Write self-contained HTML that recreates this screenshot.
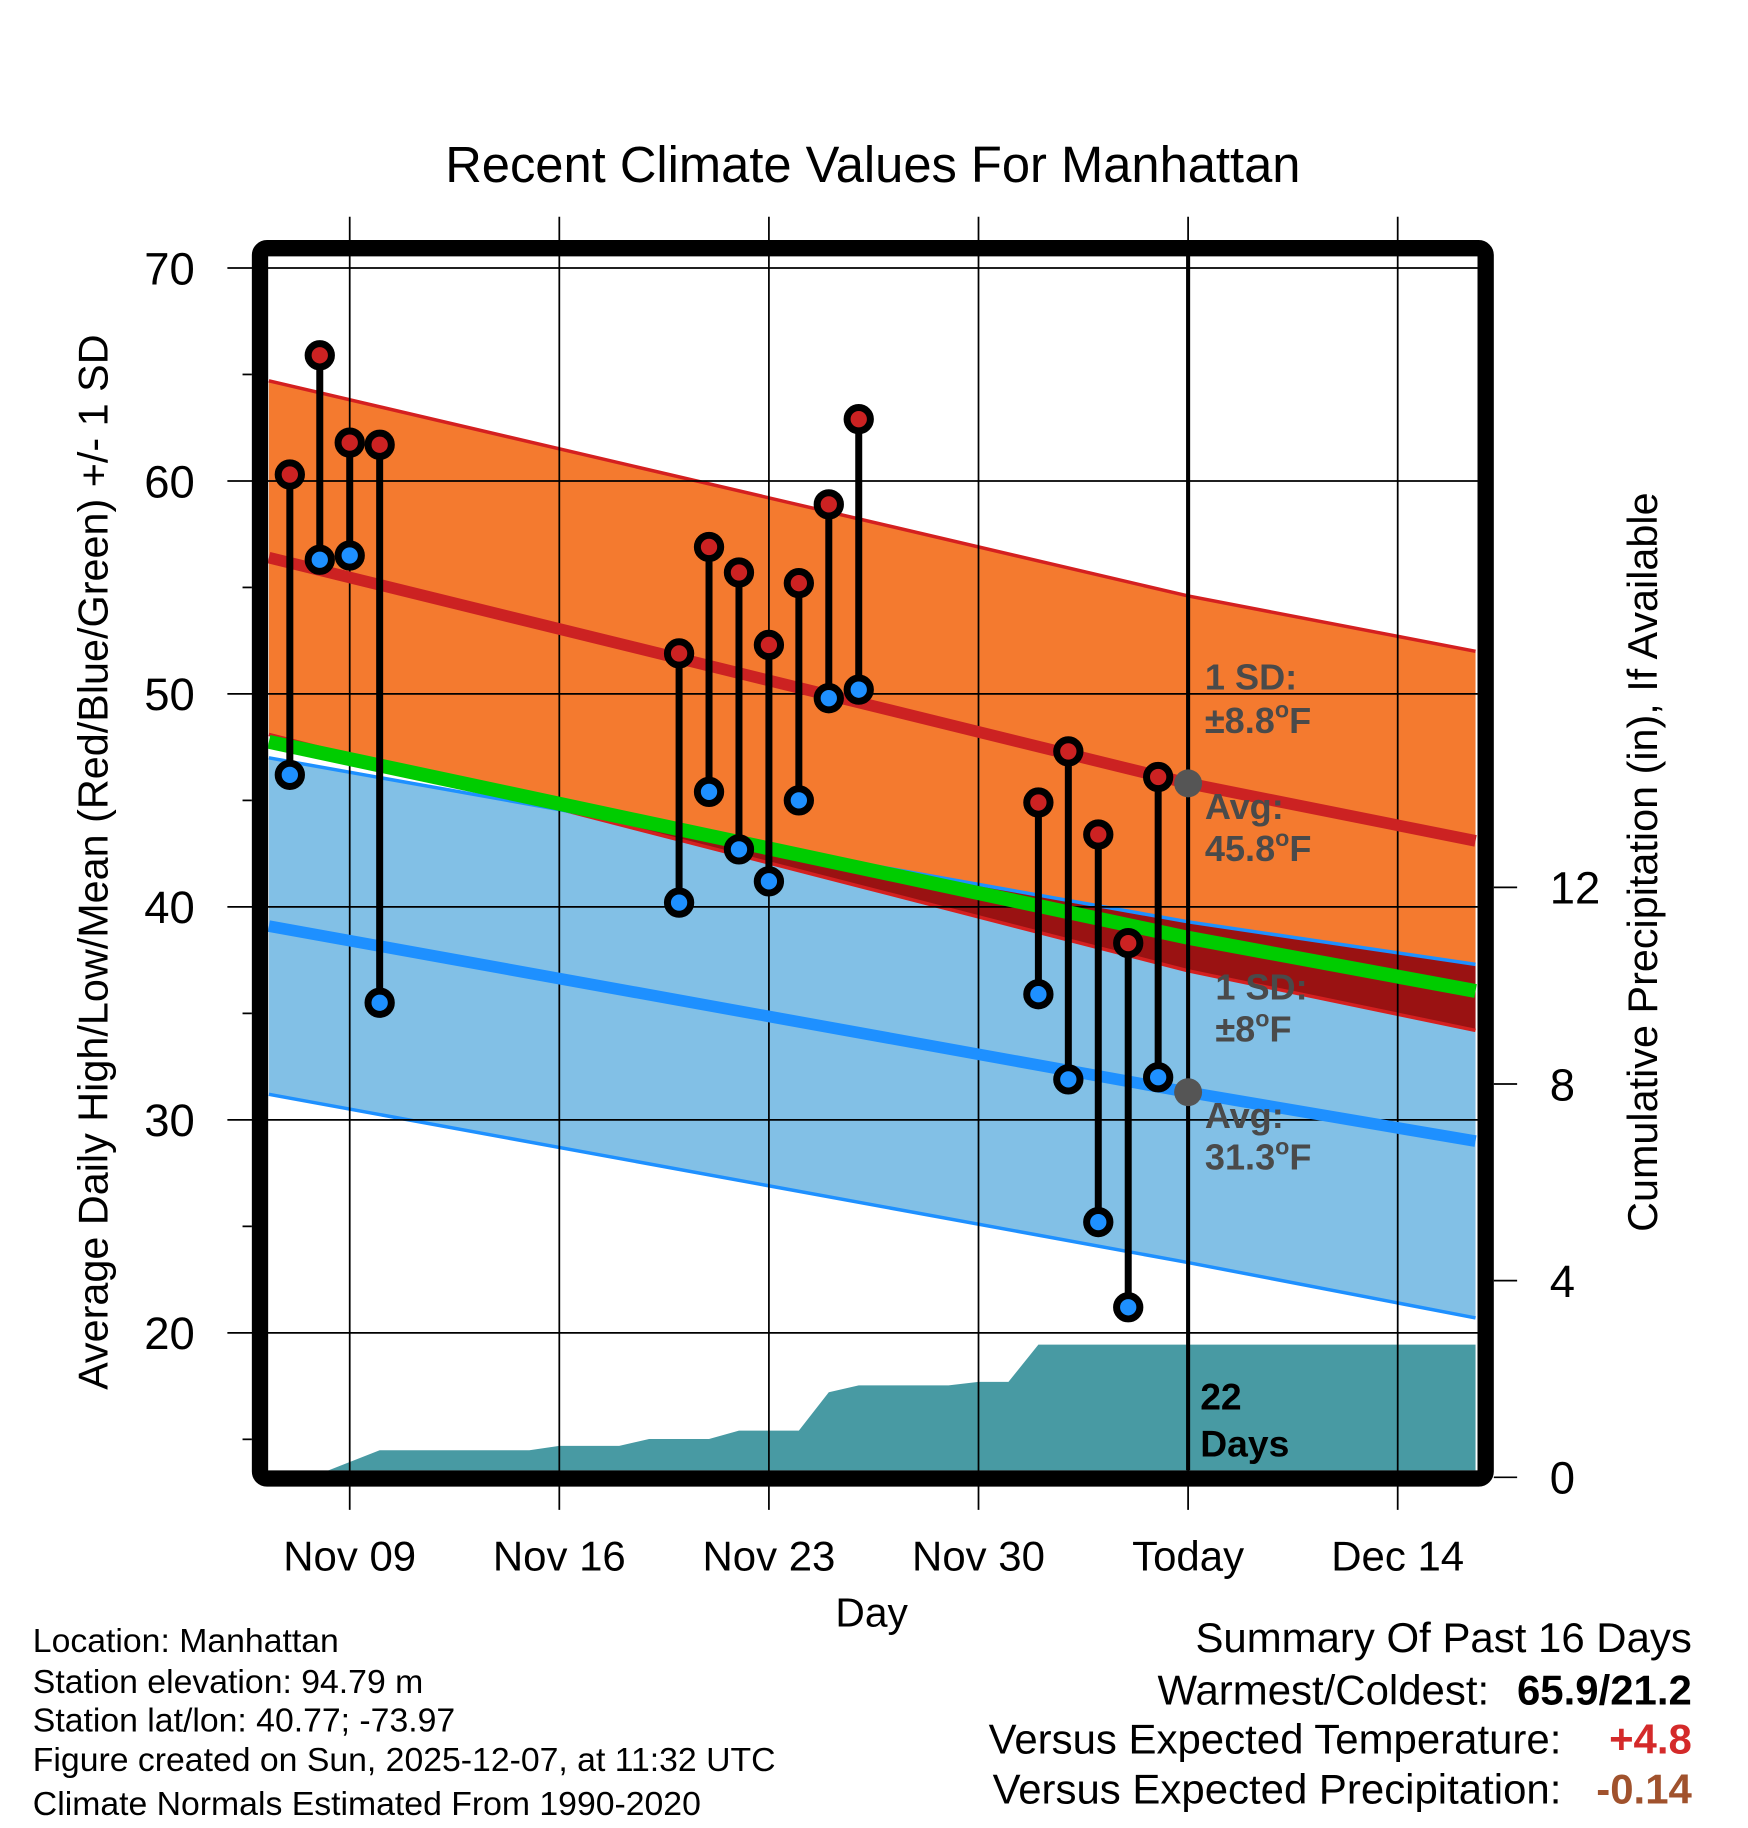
<!DOCTYPE html>
<html><head><meta charset="utf-8"><style>
html,body{margin:0;padding:0;background:#fff}
svg{display:block;font-family:"Liberation Sans",Arial,sans-serif}
</style></head><body>
<svg id="chart" width="1748" height="1828" viewBox="0 0 1500 1569" xmlns="http://www.w3.org/2000/svg">
<defs><clipPath id="plotclip"><rect x="230" y="212" width="1038" height="1050"/></clipPath></defs>
<text x="749" y="156" font-size="43.5" text-anchor="middle">Recent Climate Values For Manhattan</text>
<g id="bands" clip-path="url(#plotclip)"></g>
<g id="grid"></g>
<g id="marks" clip-path="url(#plotclip)"></g>
<g id="axes"></g>
<text transform="translate(92,740) rotate(-90)" font-size="35.5" text-anchor="middle">Average Daily High/Low/Mean (Red/Blue/Green) +/- 1 SD</text>
<text transform="translate(1422,740) rotate(-90)" font-size="35.5" text-anchor="middle">Cumulative Precipitation (in), If Available</text>
<text x="748" y="1396" font-size="35" text-anchor="middle">Day</text>
<g font-size="29">
<text x="28" y="1418">Location: Manhattan</text>
<text x="28" y="1453">Station elevation: 94.79 m</text>
<text x="28" y="1486">Station lat/lon: 40.77; -73.97</text>
<text x="28" y="1520">Figure created on Sun, 2025-12-07, at 11:32 UTC</text>
<text x="28" y="1558">Climate Normals Estimated From 1990-2020</text>
</g>
<g font-size="36">
<text x="1452" y="1418" text-anchor="end">Summary Of Past 16 Days</text>
<text x="1278" y="1463" text-anchor="end">Warmest/Coldest:</text>
<text x="1452" y="1463" text-anchor="end" font-weight="bold">65.9/21.2</text>
<text x="1340" y="1505" text-anchor="end">Versus Expected Temperature:</text>
<text x="1452" y="1505" text-anchor="end" font-weight="bold" fill="#d42a2a">+4.8</text>
<text x="1340" y="1548" text-anchor="end">Versus Expected Precipitation:</text>
<text x="1452" y="1548" text-anchor="end" font-weight="bold" fill="#a0522d">-0.14</text>
</g>
<script>
// ---- data ----
const obsDays = [-2,-1,0,1,11,12,13,14,15,16,17,23,24,25,26,27];
const obsHigh = [60.3,65.9,61.8,61.7,51.9,56.9,55.7,52.3,55.2,58.9,62.9,44.9,47.3,43.4,38.3,46.1];
const obsLow  = [46.2,56.3,56.5,35.5,40.2,45.4,42.7,41.2,45.0,49.8,50.2,35.9,31.9,25.2,21.2,32.0];
const normDays = [-2.7,28,37.6];
const normHigh = [56.4,45.8,43.1];
const normLow  = [39.1,31.3,29.0];
const sdHigh = [8.3,8.8,8.9];
const sdLow  = [7.9,8.0,8.3];
const precipDays = [-1.3,1,6,7,9,10,12,13,15,16,17,20,21,22,23,37.6];
const precipVals = [0,0.55,0.55,0.64,0.64,0.78,0.78,0.95,0.95,1.73,1.87,1.87,1.94,1.94,2.70,2.70];
const tempTicks = [20,30,40,50,60,70];
const precipTicks = [0,4,8,12];
const xTickDays = [0,7,14,21,28,35];
const xTickLabels = ["Nov 09","Nov 16","Nov 23","Nov 30","Today","Dec 14"];
const todayDay = 28;

// ---- scales ----
const X = d => 300 + d*25.7;
const Y = t => 230 + (70-t)*18.28;
const YP = p => 1268 - p*42.2;
const NS = "http://www.w3.org/2000/svg";
function mk(tag, attrs, parent){const e=document.createElementNS(NS,tag);for(const k in attrs)e.setAttribute(k,attrs[k]);parent.appendChild(e);return e;}
const bands=document.getElementById('bands'), grid=document.getElementById('grid'), marks=document.getElementById('marks'), axes=document.getElementById('axes');
const pts=(ds,vs)=>ds.map((d,i)=>X(d)+','+Y(vs[i])).join(' ');
const hiU=normHigh.map((v,i)=>v+sdHigh[i]), hiL=normHigh.map((v,i)=>v-sdHigh[i]);
const loU=normLow.map((v,i)=>v+sdLow[i]), loL=normLow.map((v,i)=>v-sdLow[i]);
const rev=a=>a.slice().reverse();
const hiPoly=pts(normDays,hiU)+' '+pts(rev(normDays),rev(hiL));
const loPoly=pts(normDays,loU)+' '+pts(rev(normDays),rev(loL));
let e;
e=mk('polygon',{points:hiPoly,fill:'#f47a2f'},bands);


e=mk('polygon',{points:loPoly,fill:'#82c0e6'},bands);


const defs=document.querySelector('defs');
const cp=mk('clipPath',{id:'loclip'},defs);
mk('polygon',{points:loPoly},cp);
e=mk('polygon',{points:hiPoly,fill:'#9a1212','clip-path':'url(#loclip)'},bands);


// precip
let pp=X(precipDays[0])+','+YP(0)+' ';
precipDays.forEach((d,i)=>{pp+=X(d)+','+YP(precipVals[i])+' ';});
pp+=X(precipDays[precipDays.length-1])+','+YP(0)+' '+X(precipDays[precipDays.length-1])+',1290 '+X(precipDays[0])+',1290';
e=mk('polygon',{points:pp,fill:'#489aa3'},bands);


// band edge lines
e=mk('polyline',{points:pts(normDays,hiU),fill:'none',stroke:'#d42020','stroke-width':3},bands);


e=mk('polyline',{points:pts(normDays,hiL),fill:'none',stroke:'#d42020','stroke-width':3},bands);


e=mk('polyline',{points:pts(normDays,loU),fill:'none',stroke:'#1e90ff','stroke-width':3},bands);


e=mk('polyline',{points:pts(normDays,loL),fill:'none',stroke:'#1e90ff','stroke-width':3},bands);


// grid
tempTicks.forEach(t=>{
 e=mk('line',{x1:195,x2:1268,y1:Y(t),y2:Y(t),stroke:'#000','stroke-width':1.5},grid);
 
 
});
xTickDays.forEach(d=>{
 e=mk('line',{x1:X(d),x2:X(d),y1:186,y2:1296,stroke:'#000','stroke-width':1.5},grid);
 
 
});
for(let t=15;t<70;t+=10){
 e=mk('line',{x1:208,x2:216,y1:Y(t),y2:Y(t),stroke:'#000','stroke-width':1.5},grid);
 
 
}
// normal lines
e=mk('polyline',{points:pts(normDays,normLow.map((v,i)=>(v+normHigh[i])/2)),fill:'none',stroke:'#00cc00','stroke-width':12},marks);


e=mk('polyline',{points:pts(normDays,normHigh),fill:'none',stroke:'#cc2222','stroke-width':10},marks);


e=mk('polyline',{points:pts(normDays,normLow),fill:'none',stroke:'#1e90ff','stroke-width':10},marks);


// today line
e=mk('line',{x1:X(todayDay),x2:X(todayDay),y1:212,y2:1262,stroke:'#000','stroke-width':3.5},marks);


e=mk('circle',{cx:X(todayDay),cy:Y(normHigh[1]),r:12,fill:'#555'},marks);


e=mk('circle',{cx:X(todayDay),cy:Y(normLow[1]),r:12,fill:'#555'},marks);


// observations
obsDays.forEach((d,i)=>{
 e=mk('line',{x1:X(d),x2:X(d),y1:Y(obsHigh[i]),y2:Y(obsLow[i]),stroke:'#000','stroke-width':6},marks);
 
 
});
obsDays.forEach((d,i)=>{
 e=mk('circle',{cx:X(d),cy:Y(obsHigh[i]),r:10,fill:'#cc2222',stroke:'#000','stroke-width':6},marks);
 
 
 e=mk('circle',{cx:X(d),cy:Y(obsLow[i]),r:10,fill:'#1e90ff',stroke:'#000','stroke-width':6},marks);
 
 
});
// annotations
function txt(x,y,s,deg,attrs,name){
 const t=mk('text',Object.assign({x:x,y:y},attrs),marks);
 t.appendChild(document.createTextNode(s));
 if(deg){
  const a=mk('tspan',{'font-size':20,dy:-13},t);a.textContent='o';
  const b=mk('tspan',{dy:13},t);b.textContent='F';
 }
 
 
 return t;
}
const ga={'font-size':31,'font-weight':'bold',fill:'#4a4a4a'};
txt(1034,592,'1 SD:',false,ga,'high-sd-label');
txt(1034,629,'±8.8',true,ga,'high-sd-value');
txt(1034,703,'Avg:',false,ga,'high-avg-label');
txt(1034,739,'45.8',true,ga,'high-avg-value');
txt(1043,858,'1 SD:',false,ga,'low-sd-label');
txt(1043,894,'±8',true,ga,'low-sd-value');
txt(1034,968,'Avg:',false,ga,'low-avg-label');
txt(1034,1004,'31.3',true,ga,'low-avg-value');
txt(1030,1210,'22',false,{'font-size':32,'font-weight':'bold'},'days-count');
txt(1030,1250,'Days',false,{'font-size':32,'font-weight':'bold'},'days-label');
// frame
e=mk('rect',{x:223,y:213,width:1052,height:1056,rx:6,fill:'none',stroke:'#000','stroke-width':14},axes);


// tick labels
tempTicks.forEach(t=>{
 e=mk('text',{x:167,y:Y(t)+14,'font-size':39,'text-anchor':'end'},axes);e.textContent=t;
 
 
});
precipTicks.forEach(p=>{
 e=mk('line',{x1:1282,x2:1302,y1:YP(p),y2:YP(p),stroke:'#000','stroke-width':1.5},axes);
 
 
 e=mk('text',{x:1330,y:YP(p)+14,'font-size':39},axes);e.textContent=p;
 
 
});
xTickDays.forEach((d,i)=>{
 e=mk('text',{x:X(d),y:1348,'font-size':36,'text-anchor':'middle'},axes);e.textContent=xTickLabels[i];
 
 
});
</script>
</svg>
</body></html>
